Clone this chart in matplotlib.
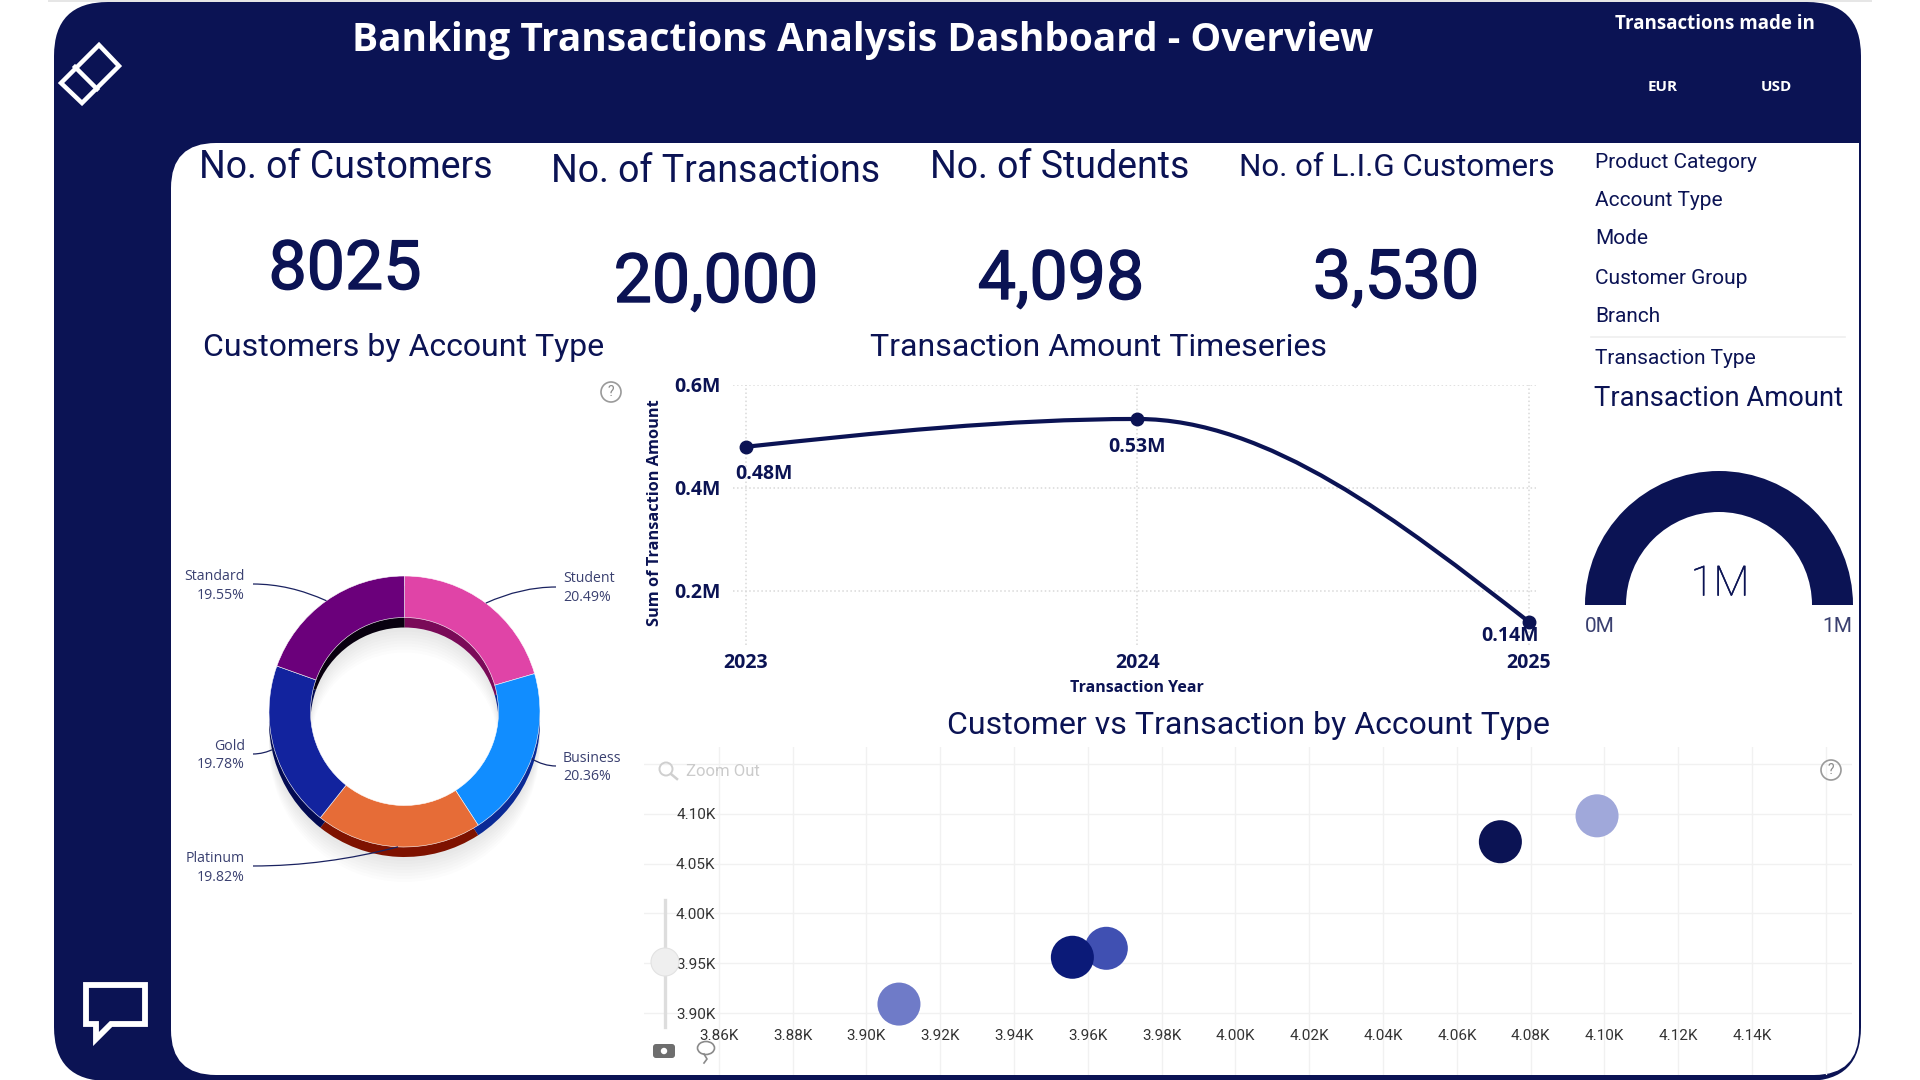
import numpy as np
import matplotlib
matplotlib.use('Agg')
import matplotlib.pyplot as plt
import matplotlib.patheffects as pe
from matplotlib.patches import FancyBboxPatch, Rectangle, Wedge, Circle, Polygon, PathPatch, Annulus, Ellipse
from matplotlib.path import Path

NAVY = '#0B1354'
W, H = 1920, 1080

# donut
account_types = ['Student', 'Business', 'Platinum', 'Gold', 'Standard']
account_shares = [20.49, 20.36, 19.82, 19.78, 19.55]
account_colors = ['#E044A7', '#118DFF', '#E66C37', '#12239E', '#6B007B']
account_dark = ['#7A0A58', '#0A2A96', '#7E1200', '#030B52', '#08000F']

# line chart
years = [2023, 2024, 2025]
amounts = [0.48, 0.534, 0.14]
amount_labels = ['0.48M', '0.53M', '0.14M']
amount_ticks = [0.2, 0.4, 0.6]

# bubbles, customers vs transactions
bubble_x = [3.965, 3.9558, 3.9088, 4.0718, 4.098]
bubble_y = [3.965, 3.956, 3.909, 4.072, 4.098]
bubble_colors = ['#4050B2', '#0B1A78', '#6F7BC8', '#0B1354', '#A0A8DA']
bubble_xticks = [3.86, 3.88, 3.90, 3.92, 3.94, 3.96, 3.98, 4.00, 4.02, 4.04, 4.06, 4.08, 4.10, 4.12, 4.14, 4.16]
bubble_yticks = [3.90, 3.95, 4.00, 4.05, 4.10, 4.15]

# cards
card_titles = ['No. of Customers', 'No. of Transactions', 'No. of Students', 'No. of L.I.G Customers']
card_values = ['8025', '20,000', '4,098', '3,530']
slicers = ['Product Category', 'Account Type', 'Mode', 'Customer Group', 'Branch', 'Transaction Type']
gauge_value = 1.0
gauge_max = 1.0


def px_axes(x0, y0, x1, y1, zorder=1):
    ax = fig.add_axes([x0 / W, 1 - y1 / H, (x1 - x0) / W, (y1 - y0) / H], zorder=zorder)
    ax.patch.set_visible(False)
    return ax


def monotone_path(x, y):
    # same smoothing as the power bi line, tangents come from the data
    x, y = np.array(x, float), np.array(y, float)
    h = np.diff(x)
    s = np.diff(y) / h
    m = np.zeros(len(x))
    for i in range(1, len(x) - 1):
        if s[i - 1] * s[i] > 0:
            m[i] = 2 * s[i - 1] * s[i] / (s[i - 1] + s[i])
    m[0] = (3 * s[0] - m[1]) / 2
    m[-1] = (3 * s[-1] - m[-2]) / 2
    verts = [(x[0], y[0])]
    codes = [Path.MOVETO]
    for i in range(len(h)):
        verts += [(x[i] + h[i] / 3, y[i] + m[i] * h[i] / 3),
                  (x[i + 1] - h[i] / 3, y[i + 1] - m[i + 1] * h[i] / 3),
                  (x[i + 1], y[i + 1])]
        codes += [Path.CURVE4] * 3
    return Path(verts, codes)


fig = plt.figure(figsize=(19.2, 10.8), dpi=100, facecolor='white')
plt.rcParams['font.family'] = ['Roboto', 'DejaVu Sans']

# background panels
bg = px_axes(0, 0, W, H, zorder=0)
bg.set_xlim(0, W)
bg.set_ylim(H, 0)
bg.axis('off')
bg.add_patch(Rectangle((48, 0), 1824, 1.5, fc='#E6E6E6', ec='none'))
bg.add_patch(FancyBboxPatch((54, 2), 1807, 1079, boxstyle='round,pad=0,rounding_size=54', fc=NAVY, ec='none'))
bg.add_patch(FancyBboxPatch((171, 143), 1688, 932, boxstyle='round,pad=0,rounding_size=45', fc='white', ec='none'))
bg.add_patch(Rectangle((1780, 143), 79, 100, fc='white', ec='none'))

# header
bg.text(863, 41, 'Banking Transactions Analysis Dashboard - Overview', color='white', fontsize=28,
        fontweight='bold', family='Open Sans', ha='center', va='center')
bg.text(1715, 24, 'Transactions made in', color='white', fontsize=13.5, fontweight='bold',
        family='Open Sans', ha='center', va='center')
bg.text(1663, 87, 'EUR', color='white', fontsize=11, fontweight='bold', family='Open Sans', ha='center', va='center')
bg.text(1776, 87, 'USD', color='white', fontsize=11, fontweight='bold', family='Open Sans', ha='center', va='center')

# logo and comment icon
bg.add_patch(Polygon([(99, 45), (119, 66), (82, 103), (61, 83)], closed=True, fc='none', ec='white', lw=3.2))
bg.plot([75, 97], [67, 89], color='white', lw=3.2)
bg.add_patch(Polygon([(86, 985), (145, 985), (145, 1024), (111, 1024), (96, 1039), (96, 1024), (86, 1024)],
                     closed=True, fc='none', ec='white', lw=4.2))

# cards
title_pos = [(346, 168, 27), (716, 171, 27), (1060, 168, 27), (1397, 168, 22.5)]
for t, (x, y, fs) in zip(card_titles, title_pos):
    bg.text(x, y, t, color=NAVY, fontsize=fs, ha='center', va='center')
value_pos = [(345, 270), (716, 283), (1061, 280), (1396, 279)]
for v, (x, y) in zip(card_values, value_pos):
    bg.text(x, y, v, color=NAVY, fontsize=49, ha='center', va='center',
            path_effects=[pe.withStroke(linewidth=1.0, foreground=NAVY)])

bg.text(404, 348, 'Customers by Account Type', color=NAVY, fontsize=23, ha='center', va='center')
bg.text(1098, 348, 'Transaction Amount Timeseries', color=NAVY, fontsize=23, ha='center', va='center')
bg.text(1248, 726, 'Customer vs Transaction by Account Type', color=NAVY, fontsize=23, ha='center', va='center')

# slicer names
slicer_y = [163, 201, 239, 279, 317, 359]
for s, y in zip(slicers, slicer_y):
    bg.text(1595, y, s, color=NAVY, fontsize=15, ha='left', va='center')
bg.plot([1591, 1845], [337, 337], color='#EFEFEF', lw=1.2)

# donut
R = 135.5
hole = 94.0 / R
cx, cy = 404.5, 711.5
ax_d = px_axes(cx - 1.3 * R, cy - 1.3 * R, cx + 1.3 * R, cy + 1.3 * R)
for k in range(4, 26, 3):
    ax_d.add_patch(Annulus((0, -(10 + k) / R), 1.0, 1 - hole, fc='black', ec='none', alpha=0.012))
ax_d.pie(account_shares, colors=account_dark, startangle=90, counterclock=False, radius=1, center=(0, -10 / R),
         wedgeprops=dict(width=1 - hole, linewidth=0))
ax_d.pie(account_shares, colors=account_colors, startangle=90, counterclock=False, radius=1,
         wedgeprops=dict(width=1 - hole, edgecolor='white', linewidth=0.4))
ax_d.set_xlim(-1.3, 1.3)
ax_d.set_ylim(-1.3, 1.3)
ax_d.set_aspect('equal')

# line chart
ax_l = px_axes(733, 385, 1536, 645)
ax_l.set_xlim(2022.967, 2025.018)
ax_l.set_ylim(0.095, 0.6)
ax_l.add_patch(PathPatch(monotone_path(years, amounts), fc='none', ec=NAVY, lw=3.0, clip_on=False, zorder=3))
ax_l.plot(years, amounts, 'o', color=NAVY, ms=9, clip_on=False, zorder=4)
ax_l.set_xticks(years)
ax_l.set_yticks(amount_ticks)
ax_l.set_yticklabels([f'{v:.1f}M' for v in amount_ticks])
ax_l.grid(True, color='#D9D9D9', ls=':', lw=1.1)
ax_l.set_axisbelow(True)
for sp in ax_l.spines.values():
    sp.set_visible(False)
ax_l.tick_params(length=0, labelcolor=NAVY, labelsize=14)
ax_l.tick_params(axis='x', pad=5.5)
ax_l.tick_params(axis='y', pad=9)
for lab in ax_l.get_xticklabels() + ax_l.get_yticklabels():
    lab.set_fontweight('bold')
    lab.set_family('Open Sans')
label_off = [(13, -19.5), (0, -20), (-14, -10)]
for x, y, t, off in zip(years, amounts, amount_labels, label_off):
    ax_l.annotate(t, (x, y), xytext=off, textcoords='offset points', color=NAVY, fontsize=14,
                  fontweight='bold', family='Open Sans', ha='center', va='center', zorder=5, annotation_clip=False)
bg.text(1137, 688, 'Transaction Year', color=NAVY, fontsize=11.5, fontweight='bold', family='Open Sans',
        ha='center', va='center')
bg.text(655, 513, 'Sum of Transaction Amount', color=NAVY, fontsize=11.8, fontweight='bold', family='Open Sans',
        ha='center', va='center', rotation=90)

# gauge
bg.text(1719, 399, 'Transaction Amount', color=NAVY, fontsize=19.7, ha='center', va='center')
gauge_r = 134
ax_g = px_axes(1719 - 140, 465, 1719 + 140, 605)
ax_g.set_xlim(-140, 140)
ax_g.set_ylim(0, 140)
ax_g.axis('off')
ax_g.add_patch(Wedge((0, 0), gauge_r, 180 * (1 - gauge_value / gauge_max), 180, width=gauge_r - 93, fc=NAVY, ec='none'))
bg.text(1720, 584, '1M', color=NAVY, fontsize=30, fontweight='light', ha='center', va='center',
        path_effects=[pe.withStroke(linewidth=0.4, foreground=NAVY)])
bg.text(1585, 627, '0M', color='#3A4070', fontsize=15, ha='left', va='center')
bg.text(1852, 627, '1M', color='#3A4070', fontsize=15, ha='right', va='center')

# bubbles
ax_s = px_axes(644, 747, 1852, 1075)
ax_s.set_xlim(3.8397, 4.1671)
ax_s.set_ylim(3.8378, 4.1671)
ax_s.scatter(bubble_x, bubble_y, s=960, c=bubble_colors, linewidths=0, zorder=3)
ax_s.set_xticks(bubble_xticks)
ax_s.set_xticklabels([f'{v:.2f}K' if v < 4.15 else '' for v in bubble_xticks])
ax_s.set_yticks(bubble_yticks)
ax_s.set_yticklabels([f'{v:.2f}K' if v < 4.12 else '' for v in bubble_yticks])
ax_s.grid(True, color='#F1F1F1', lw=1.0)
ax_s.set_axisbelow(True)
for sp in ax_s.spines.values():
    sp.set_visible(False)
ax_s.tick_params(length=0, labelcolor='#333333', labelsize=11)
ax_s.tick_params(axis='x', pad=-33)
ax_s.tick_params(axis='y', pad=-51.5)

# things that sit on top of the charts
top = px_axes(0, 0, W, H, zorder=5)
top.set_xlim(0, W)
top.set_ylim(H, 0)
top.axis('off')

# leader lines start on the middle of each slice
label_anchor = [(556, 587, 563, 'left', 579), (556, 766, 563, 'left', 758), (253, 866, 245, 'right', 859),
                (253, 754, 245, 'right', 746), (253, 584, 245, 'right', 577)]
mids = (np.cumsum(account_shares) - np.array(account_shares) / 2) / sum(account_shares) * 2 * np.pi
for name, share, mid, (lx, ly, tx, ha, ty) in zip(account_types, account_shares, mids, label_anchor):
    ex, ey = cx + R * np.sin(mid), cy - R * np.cos(mid)
    top.add_patch(PathPatch(Path([(lx, ly), ((lx + ex) / 2, ly), (ex, ey)], [Path.MOVETO, Path.CURVE3, Path.CURVE3]),
                            fc='none', ec='#1A2260', lw=0.9))
    top.text(tx, ty, name, color='#3A4070', fontsize=10.2, family='Open Sans', ha=ha, va='center')
    top.text(tx, ty + 18.5, f'{share:.2f}%', color='#3A4070', fontsize=10.2, family='Open Sans', ha=ha, va='center')

for hx, hy in [(611, 392), (1831, 770)]:
    top.add_patch(Circle((hx, hy), 10, fc='none', ec='#9A9A9A', lw=1.2))
    top.text(hx, hy, '?', color='#8A8A8A', fontsize=10, ha='center', va='center')
top.add_patch(Circle((666, 769), 6.5, fc='none', ec='#CFCFCF', lw=1.4))
top.plot([671, 677], [774, 779], color='#CFCFCF', lw=1.8)
top.text(686, 771, 'Zoom Out', color='#CBCBCB', fontsize=12, ha='left', va='center')
top.plot([665, 665], [900, 1027], color='#DDDDDD', lw=2.4, zorder=1)
top.add_patch(Circle((665, 962), 14, fc='#EFEFEF', ec='#E2E2E2', lw=0.8, zorder=2))
top.add_patch(FancyBboxPatch((653, 1044), 22, 14, boxstyle='round,pad=0,rounding_size=3', fc='#6E6E6E', ec='none'))
top.add_patch(Circle((664, 1051), 3.2, fc='white', ec='none'))
top.add_patch(Ellipse((706, 1048), 17, 13, fc='none', ec='#8A8A8A', lw=1.2))
top.plot([704, 707, 704], [1054, 1059, 1063], color='#8A8A8A', lw=1.2)

plt.savefig('out.png', dpi=100)
plt.close(fig)
